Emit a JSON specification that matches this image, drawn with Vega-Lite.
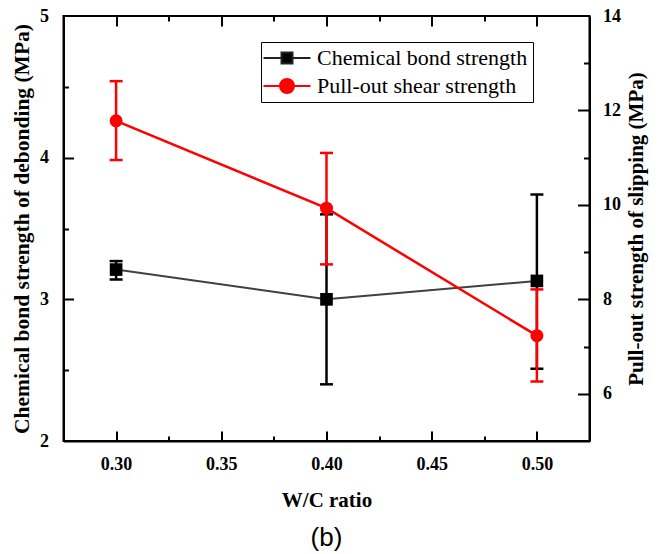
{
  "$schema": "https://vega.github.io/schema/vega-lite/v6.json",
  "width": 526,
  "height": 425,
  "autosize": "none",
  "padding": {"left": 63.5, "top": 16, "right": 73.5, "bottom": 113},
  "background": "white",
  "title": {
    "text": "(b)",
    "orient": "bottom",
    "font": "Liberation Sans",
    "fontSize": 26,
    "fontWeight": "normal",
    "color": "black",
    "dx": 0,
    "offset": 15
  },
  "config": {
    "view": {"stroke": "black", "strokeWidth": 2},
    "axis": {
      "grid": false,
      "domainColor": "black",
      "domainWidth": 2,
      "tickColor": "black",
      "tickWidth": 2,
      "tickSize": 0,
      "labelFont": "Liberation Serif",
      "labelFontWeight": "bold",
      "labelFontSize": 18,
      "labelColor": "black",
      "labelOverlap": false,
      "labelFlush": false,
      "titleFont": "Liberation Serif",
      "titleFontWeight": "bold",
      "titleFontSize": 21,
      "titleColor": "black"
    },
    "legend": {
      "orient": "none",
      "legendX": 197.5,
      "legendY": 26,
      "labelFont": "Liberation Serif",
      "labelFontSize": 22,
      "labelColor": "black",
      "labelLimit": 0,
      "strokeColor": "black",
      "fillColor": "white",
      "padding": 5,
      "rowPadding": 6,
      "symbolSize": 400,
      "symbolOffset": 10,
      "labelOffset": 19,
      "symbolOpacity": 1,
      "symbolStrokeWidth": 2
    }
  },
  "data": {
    "values": [
      {"wc": 0.30, "series": "Chemical bond strength", "mean": 3.21, "lo": 3.14, "hi": 3.27},
      {"wc": 0.40, "series": "Chemical bond strength", "mean": 3.00, "lo": 2.40, "hi": 3.60},
      {"wc": 0.50, "series": "Chemical bond strength", "mean": 3.13, "lo": 2.51, "hi": 3.74},
      {"wc": 0.30, "series": "Pull-out shear strength", "mean": 11.78, "lo": 10.95, "hi": 12.62},
      {"wc": 0.40, "series": "Pull-out shear strength", "mean": 9.93, "lo": 8.74, "hi": 11.10},
      {"wc": 0.50, "series": "Pull-out shear strength", "mean": 7.23, "lo": 6.26, "hi": 8.21}
    ]
  },
  "layer": [
    {
      "transform": [{"filter": "datum.series === 'Chemical bond strength'"}],
      "layer": [
        {
          "mark": {"type": "line", "color": "#404040", "strokeWidth": 2},
          "encoding": {
            "x": {
              "field": "wc", "type": "quantitative",
              "scale": {"domain": [0.275, 0.525], "nice": false, "zero": false},
              "axis": {
                "orient": "bottom", "title": "W/C ratio",
                "values": [0.3, 0.35, 0.4, 0.45, 0.5], "format": ".2f",
                "ticks": false, "labelPadding": 14, "titlePadding": 16
              }
            },
            "y": {
              "field": "mean", "type": "quantitative",
              "scale": {"domain": [2, 5], "nice": false, "zero": false},
              "axis": {
                "orient": "left", "title": "Chemical bond strength of debonding (MPa)",
                "titleFontSize": 21.5,
                "values": [2, 3, 4, 5], "format": "d",
                "ticks": false, "labelPadding": 15, "titlePadding": 6
              }
            }
          }
        },
        {
          "mark": {
            "type": "errorbar", "color": "black", "thickness": 2.5,
            "ticks": {"size": 13, "thickness": 2.5, "color": "black", "opacity": 1}
          },
          "encoding": {
            "x": {
              "field": "wc", "type": "quantitative",
              "axis": {
                "orient": "bottom", "title": null, "values": [0.3, 0.35, 0.4, 0.45, 0.5],
                "labels": false, "domain": false, "offset": -10, "tickSize": 10
              }
            },
            "y": {
              "field": "lo", "type": "quantitative",
              "axis": {
                "orient": "left", "title": null, "values": [3, 4],
                "labels": false, "domain": false, "offset": -10, "tickSize": 10
              }
            },
            "y2": {"field": "hi"}
          }
        },
        {
          "mark": {"type": "point", "filled": true, "opacity": 1, "size": 160, "shape": "square", "color": "black"},
          "encoding": {
            "x": {
              "field": "wc", "type": "quantitative",
              "axis": {
                "orient": "bottom", "title": null, "values": [0.325, 0.375, 0.425, 0.475],
                "labels": false, "domain": false, "offset": -5, "tickSize": 5
              }
            },
            "y": {
              "field": "mean", "type": "quantitative",
              "axis": {
                "orient": "left", "title": null, "values": [2.5, 3.5, 4.5],
                "labels": false, "domain": false, "offset": -5, "tickSize": 5
              }
            }
          }
        }
      ],
      "resolve": {"axis": {"x": "independent", "y": "independent"}}
    },
    {
      "transform": [{"filter": "datum.series === 'Pull-out shear strength'"}],
      "layer": [
        {
          "mark": {"type": "line", "color": "#ff0000", "strokeWidth": 2.5},
          "encoding": {
            "x": {
              "field": "wc", "type": "quantitative",
              "axis": {
                "orient": "top", "title": null, "values": [0.3, 0.35, 0.4, 0.45, 0.5],
                "labels": false, "domain": false, "offset": -10, "tickSize": 10
              }
            },
            "y": {
              "field": "mean", "type": "quantitative",
              "scale": {"domain": [5, 14], "nice": false, "zero": false},
              "axis": {
                "orient": "right", "title": "Pull-out strength of slipping (MPa)", "titleAngle": 270,
                "values": [6, 8, 10, 12, 14], "format": "d",
                "ticks": false, "labelPadding": 13, "titlePadding": 26
              }
            }
          }
        },
        {
          "mark": {
            "type": "errorbar", "color": "#ff0000", "thickness": 2.5,
            "ticks": {"size": 13, "thickness": 2.5, "color": "#ff0000", "opacity": 1}
          },
          "encoding": {
            "x": {
              "field": "wc", "type": "quantitative",
              "axis": {
                "orient": "top", "title": null, "values": [0.325, 0.375, 0.425, 0.475],
                "labels": false, "domain": false, "offset": -5, "tickSize": 5
              }
            },
            "y": {
              "field": "lo", "type": "quantitative",
              "axis": {
                "orient": "right", "title": null, "values": [6, 8, 10, 12],
                "labels": false, "domain": false, "offset": -12, "tickSize": 12
              }
            },
            "y2": {"field": "hi"}
          }
        },
        {
          "mark": {"type": "point", "filled": true, "opacity": 1, "size": 170, "shape": "circle", "color": "#ff0000"},
          "encoding": {
            "x": {"field": "wc", "type": "quantitative", "axis": null},
            "y": {
              "field": "mean", "type": "quantitative",
              "axis": {
                "orient": "right", "title": null, "values": [7, 9, 11, 13],
                "labels": false, "domain": false, "offset": -6, "tickSize": 6
              }
            }
          }
        }
      ],
      "resolve": {"axis": {"x": "independent", "y": "independent"}}
    },
    {
      "mark": {"type": "point", "filled": true, "opacity": 0, "strokeWidth": 2},
      "encoding": {
        "x": {"field": "wc", "type": "quantitative", "axis": null},
        "y": {"field": "mean", "type": "quantitative", "axis": null, "scale": {"domain": [2, 14]}},
        "color": {
          "field": "series", "type": "nominal",
          "scale": {"domain": ["Chemical bond strength", "Pull-out shear strength"], "range": ["black", "#ff0000"]},
          "legend": {"title": null}
        },
        "stroke": {
          "field": "series", "type": "nominal",
          "scale": {"domain": ["Chemical bond strength", "Pull-out shear strength"], "range": ["#222222", "#ff0000"]},
          "legend": {"title": null}
        },
        "shape": {
          "field": "series", "type": "nominal",
          "scale": {
            "domain": ["Chemical bond strength", "Pull-out shear strength"],
            "range": [
              "M-2.35,0H-0.55M0.55,0H2.35M-0.55,-0.55H0.55V0.55H-0.55Z",
              "M-2.35,0H-0.7M0.7,0H2.35M-0.7,0A0.7,0.7 0 1,0 0.7,0A0.7,0.7 0 1,0 -0.7,0Z"
            ]
          },
          "legend": {"title": null}
        }
      }
    }
  ],
  "resolve": {"scale": {"y": "independent"}, "axis": {"x": "independent", "y": "independent"}}
}
